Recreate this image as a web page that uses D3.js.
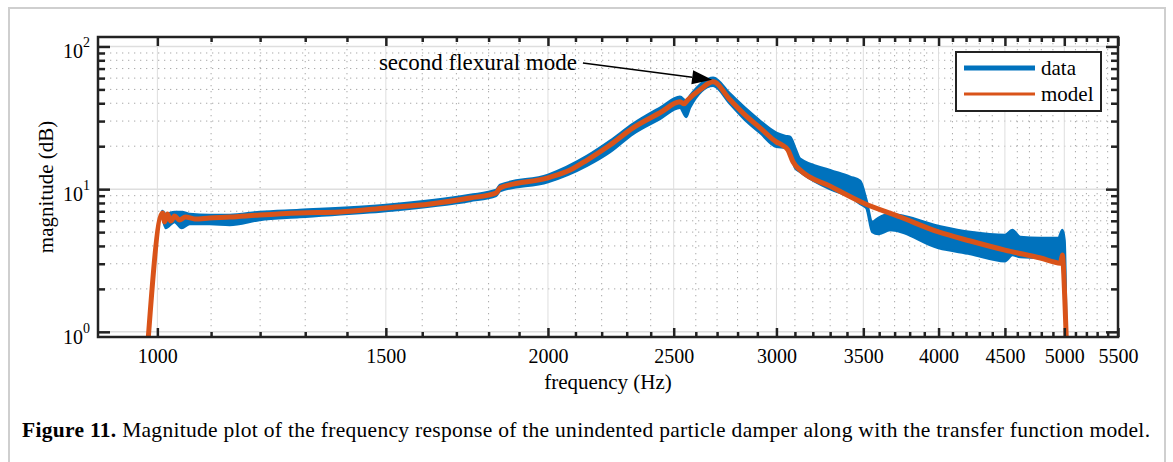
<!DOCTYPE html>
<html lang="en">
<head>
<meta charset="UTF-8">
<title>Magnitude plot</title>
<script src="https://cdn.jsdelivr.net/npm/d3@7"></script>
<style>
  body { margin: 0; background: #fff; }
  svg text { font-family: "Liberation Serif", "Times New Roman", serif; fill: #000; }
</style>
</head>
<body>
<div id="chart-space"></div>
<script>

// measured response (blue band = lower / upper envelope of the data)
var dataFreq = [1009, 1015, 1031, 1044, 1059, 1097, 1137, 1199, 1287, 1500,
                1741, 1824, 1837, 2000, 2144, 2233, 2326, 2440, 2528, 2556,
                2573, 2681, 2763, 2848, 2914, 3000, 3046, 3074, 3101, 3129,
                3300, 3420, 3481, 3519, 3556, 3594, 3671, 4000, 4232, 4500,
                4559, 4624, 4793, 4948, 4983, 5002, 5020];
var dataHi = [7.03, 6.70, 6.92, 6.92, 6.70, 6.59, 6.59, 6.92, 7.14, 7.75,
              9.10, 9.87, 10.7, 12.6, 17.1, 21.8, 28.7, 37.2, 44.4, 41.6,
              45.1, 60.3, 46.6, 36.0, 30.1, 24.8, 23.6, 23.2, 19.5, 16.3,
              13.6, 12.2, 11.4, 8.40, 5.89, 6.28, 6.70, 5.52, 5.01, 4.77,
              5.17, 4.62, 4.55, 4.55, 5.17, 4.40, 0.8];
var dataLo = [6.38, 5.34, 5.89, 5.34, 5.70, 5.70, 5.61, 6.08, 6.38, 7.03,
              8.26, 8.96, 9.71, 11.2, 14.6, 18.2, 24.4, 31.1, 37.2, 32.1,
              37.2, 53.0, 39.6, 29.6, 24.8, 19.8, 19.5, 18.2, 14.1, 13.2,
              10.0, 8.81, 7.87, 7.38, 5.01, 4.85, 5.17, 3.86, 3.51, 3.13,
              3.45, 3.34, 3.29, 3.08, 2.94, 1.67, 0.8];

// transfer function model
var modelFreq = [983, 1009, 1013, 1018, 1024, 1031, 1040, 1051, 1069, 1097,
                 1137, 1199, 1287, 1382, 1500, 1622, 1741, 1824, 1837, 2000,
                 2080, 2144, 2233, 2326, 2440, 2528, 2546, 2564, 2619, 2681,
                 2763, 2848, 2914, 3000, 3030, 3062, 3090, 3129, 3300, 3500,
                 3737, 4000, 4232, 4500, 4793, 4966, 4983, 5005, 5020];
var modelMag = [0.8, 6.81, 5.89, 6.70, 5.98, 6.48, 6.08, 6.38, 6.18, 6.28,
                6.38, 6.59, 6.81, 6.92, 7.38, 7.87, 8.67, 9.40, 10.2, 12.0,
                13.6, 16.0, 20.4, 26.9, 34.3, 40.9, 39.6, 42.3, 49.7, 56.5,
                42.3, 32.1, 26.9, 21.4, 20.4, 18.8, 15.5, 13.6, 10.5, 8.0,
                6.38, 5.01, 4.33, 3.74, 3.29, 3.03, 3.45, 1.67, 0.8];

var xTickValues = [1000, 1500, 2000, 2500, 3000, 3500, 4000, 4500, 5000, 5500];
var xMinorValues = d3.range(1100, 5500, 100).filter(function(d) { return d % 500 !== 0; });
var yTickValues = [1, 10, 100];
var yMinorValues = [2, 3, 4, 5, 6, 7, 8, 9, 20, 30, 40, 50, 60, 70, 80, 90];

var peak = {f: 2681, mag: 56.5, label: "second flexural mode", tailF: 2128, tailMag: 76.5};

var width = 1173, height = 462;
var margin = {top: 37, left: 98};
var chartWidth = 1020;
var chartHeight = 300;

var blue = "#0072bd", orange = "#d95319";

var root = d3.select("#chart-space").append("svg")
    .attr("width", width)
    .attr("height", height);

// figure frame
root.append("rect")
    .attr("x", 9).attr("y", 8)
    .attr("width", 1156).attr("height", 470)
    .attr("fill", "none").attr("stroke", "#cfcfcf").attr("stroke-width", 2);

var svg = root.append("g")
    .attr("transform", "translate(" + margin.left + "," + margin.top + ")");

var xScale = d3.scaleLog().domain([900, 5500]).range([0, chartWidth]);
var yScale = d3.scaleLog().domain([0.92, 116.5]).range([chartHeight, 0]);

// grid
var grid = svg.append("g");
grid.selectAll(".xminor").data(xMinorValues).join("line")
    .attr("x1", d => xScale(d)).attr("x2", d => xScale(d))
    .attr("y1", 0).attr("y2", chartHeight)
    .attr("stroke", "#a8a8a8").attr("stroke-width", 1).attr("stroke-dasharray", "1.3,4.7");
grid.selectAll(".yminor").data(yMinorValues).join("line")
    .attr("x1", 0).attr("x2", chartWidth)
    .attr("y1", d => yScale(d)).attr("y2", d => yScale(d))
    .attr("stroke", "#a8a8a8").attr("stroke-width", 1).attr("stroke-dasharray", "1.3,4.7");
grid.selectAll(".xmajor").data(xTickValues).join("line")
    .attr("x1", d => xScale(d)).attr("x2", d => xScale(d))
    .attr("y1", 0).attr("y2", chartHeight)
    .attr("stroke", "#dedede").attr("stroke-width", 1);
grid.selectAll(".ymajor").data(yTickValues).join("line")
    .attr("x1", 0).attr("x2", chartWidth)
    .attr("y1", d => yScale(d)).attr("y2", d => yScale(d))
    .attr("stroke", "#dedede").attr("stroke-width", 1.5);

// clip to axes box
svg.append("clipPath").attr("id", "plot-clip")
    .append("rect").attr("width", chartWidth).attr("height", chartHeight);

var plot = svg.append("g").attr("clip-path", "url(#plot-clip)");

var band = dataFreq.map(function(f, i) { return {f: f, lo: dataLo[i], hi: dataHi[i]}; });
var area = d3.area()
    .x(d => xScale(d.f))
    .y0(d => yScale(d.lo))
    .y1(d => yScale(d.hi))
    .curve(d3.curveMonotoneX);
plot.append("path")
    .attr("d", area(band))
    .attr("fill", blue)
    .attr("stroke", blue).attr("stroke-width", 2.5).attr("stroke-linejoin", "round");

var model = modelFreq.map(function(f, i) { return {f: f, mag: modelMag[i]}; });
var line = d3.line()
    .x(d => xScale(d.f))
    .y(d => yScale(d.mag))
    .curve(d3.curveMonotoneX);
plot.append("path")
    .attr("d", line(model))
    .attr("fill", "none")
    .attr("stroke", orange).attr("stroke-width", 5)
    .attr("stroke-linejoin", "round").attr("stroke-linecap", "round");

// axes (inward ticks, box on)
function styleAxis(g) {
    g.select(".domain").remove();
    g.selectAll(".tick line").attr("stroke", "#222").attr("stroke-width", 2.5);
    g.attr("font-family", null).attr("font-size", null);
}
svg.append("g").attr("transform", "translate(0," + chartHeight + ")")
    .call(d3.axisBottom(xScale).tickValues(xTickValues).tickFormat(d3.format("d")).tickSize(-9).tickPadding(12))
    .call(styleAxis)
    .selectAll("text").style("font-size", "20px");
svg.append("g").attr("transform", "translate(0," + chartHeight + ")")
    .call(d3.axisBottom(xScale).tickValues(xMinorValues).tickFormat("").tickSize(-5))
    .call(styleAxis);
svg.append("g")
    .call(d3.axisTop(xScale).tickValues(xTickValues).tickFormat("").tickSize(-9))
    .call(styleAxis);
svg.append("g")
    .call(d3.axisTop(xScale).tickValues(xMinorValues).tickFormat("").tickSize(-5))
    .call(styleAxis);
svg.append("g")
    .call(d3.axisLeft(yScale).tickValues(yTickValues).tickFormat("").tickSize(-12))
    .call(styleAxis);
svg.append("g")
    .call(d3.axisLeft(yScale).tickValues(yMinorValues).tickFormat("").tickSize(-7))
    .call(styleAxis);
svg.append("g").attr("transform", "translate(" + chartWidth + ",0)")
    .call(d3.axisRight(yScale).tickValues(yTickValues).tickFormat("").tickSize(-12))
    .call(styleAxis);
svg.append("g").attr("transform", "translate(" + chartWidth + ",0)")
    .call(d3.axisRight(yScale).tickValues(yMinorValues).tickFormat("").tickSize(-7))
    .call(styleAxis);

// y tick labels as powers of ten
var yLabels = svg.append("g").selectAll("text").data(yTickValues).join("text")
    .attr("x", -8)
    .attr("y", d => yScale(d) + 12)
    .attr("text-anchor", "end")
    .style("font-size", "20px");
yLabels.append("tspan").text("10");
yLabels.append("tspan")
    .attr("dy", -11)
    .style("font-size", "14px")
    .text(d => Math.round(Math.log10(d)));

svg.append("rect")
    .attr("width", chartWidth).attr("height", chartHeight)
    .attr("fill", "none").attr("stroke", "#222").attr("stroke-width", 2.5);

// axis titles
svg.append("text")
    .attr("x", chartWidth / 2).attr("y", 352)
    .attr("text-anchor", "middle")
    .style("font-size", "21px")
    .text("frequency (Hz)");
svg.append("text")
    .attr("transform", "translate(-45," + (chartHeight / 2) + ") rotate(-90)")
    .attr("text-anchor", "middle")
    .style("font-size", "21px")
    .text("magnitude (dB)");

// annotation arrow to the peak
var tipX = xScale(peak.f) - 1, tipY = yScale(peak.mag) - 2;
var tailX = xScale(peak.tailF), tailY = yScale(peak.tailMag);
var ang = Math.atan2(tipY - tailY, tipX - tailX);
var headLen = 20, headW = 7;
var baseX = tipX - headLen * Math.cos(ang), baseY = tipY - headLen * Math.sin(ang);
svg.append("line")
    .attr("x1", tailX).attr("y1", tailY).attr("x2", baseX).attr("y2", baseY)
    .attr("stroke", "#000").attr("stroke-width", 1.5);
svg.append("path")
    .attr("d", "M" + tipX + "," + tipY +
        "L" + (baseX + headW * Math.sin(ang)) + "," + (baseY - headW * Math.cos(ang)) +
        "L" + (baseX - headW * Math.sin(ang)) + "," + (baseY + headW * Math.cos(ang)) + "Z")
    .attr("fill", "#000");
svg.append("text")
    .attr("x", tailX - 6).attr("y", tailY + 7)
    .attr("text-anchor", "end")
    .style("font-size", "23px")
    .text(peak.label);

// legend
var legend = svg.append("g").attr("transform", "translate(858,15)");
legend.append("rect")
    .attr("width", 145).attr("height", 59)
    .attr("fill", "#fff").attr("stroke", "#222").attr("stroke-width", 2);
legend.append("line").attr("x1", 8).attr("x2", 79).attr("y1", 16).attr("y2", 16)
    .attr("stroke", blue).attr("stroke-width", 5);
legend.append("line").attr("x1", 8).attr("x2", 79).attr("y1", 42).attr("y2", 42)
    .attr("stroke", orange).attr("stroke-width", 3);
legend.append("text").attr("x", 85).attr("y", 23).style("font-size", "21px").text("data");
legend.append("text").attr("x", 85).attr("y", 49).style("font-size", "21px").text("model");

// caption
var caption = root.append("text")
    .attr("x", 22).attr("y", 437)
    .attr("textLength", 1128)
    .attr("lengthAdjust", "spacing")
    .style("font-size", "21.5px");
caption.append("tspan").attr("font-weight", "bold").text("Figure 11.");
caption.append("tspan").text(" Magnitude plot of the frequency response of the unindented particle damper along with the transfer function model.");

</script>
</body>
</html>
